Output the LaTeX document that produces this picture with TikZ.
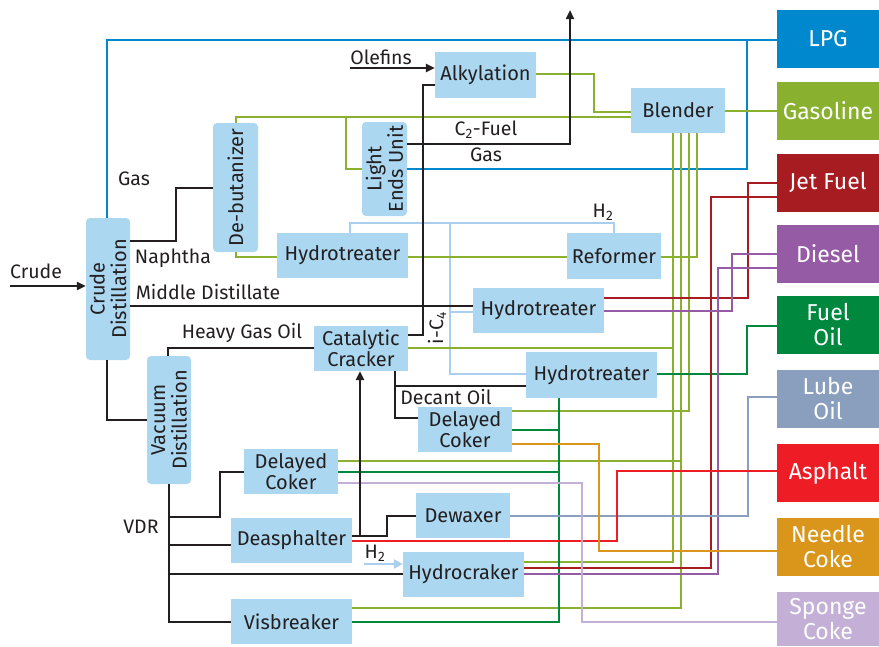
\documentclass[tikz,border=0pt]{standalone}
\usepackage{fontspec}
\setmainfont{Fira Sans}
\usetikzlibrary{arrows.meta}
\definecolor{boxblue}{RGB}{171,215,241}
\definecolor{ink}{RGB}{35,31,32}
\definecolor{cgreen}{RGB}{138,176,48}
\definecolor{cblue}{RGB}{0,136,206}
\definecolor{clblue}{RGB}{170,207,238}
\definecolor{cdred}{RGB}{166,28,33}
\definecolor{cpurple}{RGB}{149,91,165}
\definecolor{cdgreen}{RGB}{0,136,62}
\definecolor{cgrey}{RGB}{138,159,189}
\definecolor{cred}{RGB}{238,28,37}
\definecolor{corange}{RGB}{217,150,26}
\definecolor{clilac}{RGB}{196,176,214}
\begin{document}
\begin{tikzpicture}[x=1pt,y=-1pt,
  unit/.style={fill=boxblue,inner sep=0pt,text=ink,align=center,font=\fontsize{20}{21.5}\selectfont},
  runit/.style={unit,rounded corners=4pt},
  rtext/.style={rotate=90,align=center,text=ink,inner sep=0pt,font=\fontsize{20}{21.5}\selectfont},
  prod/.style={inner sep=0pt,text=white,align=center,minimum width=102pt,minimum height=58pt,font=\fontsize{23}{25}\selectfont},
  lbl/.style={inner sep=0pt,text=ink,font=\fontsize{19.5}{21}\selectfont},
  kline/.style={draw=ink,line width=2.4pt},
  cl/.style={line width=2pt},
  arr/.style={-{Triangle[length=9pt,width=8pt]}}
]
\useasboundingbox (0,0) rectangle (879,646);
% ---- process units
\node[runit,minimum width=44pt,minimum height=142pt] (crude) at (108,289) {};
\node[rtext] (crudeT) at (crude.center) {Crude\\Distillation};
\node[runit,minimum width=45pt,minimum height=129pt] (debut) at (235.5,187.5) {};
\node[rtext] (debutT) at (debut.center) {De-butanizer};
\node[runit,minimum width=45pt,minimum height=94pt] (leu) at (384.5,169) {};
\node[rtext] (leuT) at (leu.center) {Light\\Ends Unit};
\node[runit,minimum width=44pt,minimum height=128pt] (vac) at (169,420) {};
\node[rtext] (vacT) at (vac.center) {Vacuum\\Distillation};
\node[unit,minimum width=101pt,minimum height=46pt] (alky) at (485.5,75) {Alkylation};
\node[unit,minimum width=94pt,minimum height=45pt] (blend) at (678,110.5) {Blender};
\node[unit,minimum width=131pt,minimum height=45pt] (hyd1) at (342.5,255.5) {Hydrotreater};
\node[unit,minimum width=94pt,minimum height=46pt] (reform) at (614,256) {Reformer};
\node[unit,minimum width=131pt,minimum height=45pt] (hyd2) at (538.5,310.5) {Hydrotreater};
\node[unit,minimum width=94pt,minimum height=45pt] (cat) at (361,348.5) {Catalytic\\Cracker};
\node[unit,minimum width=131pt,minimum height=46pt] (hyd3) at (591.5,375) {Hydrotreater};
\node[unit,minimum width=94pt,minimum height=45pt] (dc2) at (465,429.5) {Delayed\\Coker};
\node[unit,minimum width=94pt,minimum height=45pt] (dc1) at (291,471.5) {Delayed\\Coker};
\node[unit,minimum width=94pt,minimum height=45pt] (dewax) at (463,515.5) {Dewaxer};
\node[unit,minimum width=121pt,minimum height=45pt] (deasph) at (291.5,540.5) {Deasphalter};
\node[unit,minimum width=121pt,minimum height=45pt] (hcrack) at (463.5,574.5) {Hydrocraker};
\node[unit,minimum width=121pt,minimum height=45pt] (visb) at (291.5,621.5) {Visbreaker};
% ---- products
\node[prod,fill=cblue] (lpg) at (828,39) {LPG};
\node[prod,fill=cgreen] (gas) at (828,111) {Gasoline};
\node[prod,fill=cdred] (jet) at (828,182.5) {Jet Fuel};
\node[prod,fill=cpurple] (diesel) at (828,254) {Diesel};
\node[prod,fill=cdgreen] (fuel) at (828,325) {Fuel\\Oil};
\node[prod,fill=cgrey] (lube) at (828,399) {Lube\\Oil};
\node[prod,fill=cred] (asph) at (828,473) {Asphalt};
\node[prod,fill=corange] (needle) at (828,547) {Needle\\Coke};
\node[prod,fill=clilac,minimum height=54pt] (sponge) at (828,619) {Sponge\\Coke};
% ---- free ends
\coordinate (crudein) at (10,286);
\coordinate (olefin) at (350,68);
\coordinate (fuelgas) at (570,10);
\coordinate (h2in) at (364,564);
% ---- blue
\draw[cl,draw=cblue] (crude.north -| 107,0) |- (lpg.west |- 0,40);
\draw[cl,draw=cblue] (leu.east |- 0,169) -| (747,40);
% ---- light blue (H2)
\draw[cl,draw=clblue,line width=1.8pt] (hyd1.north -| 350,0) |- (614,223) -- (reform.north -| 614,0);
\draw[cl,draw=clblue,line width=1.8pt] (450,223) |- (hyd3.west |- 0,374);
\draw[cl,draw=clblue,line width=1.8pt] (450,312) -- (hyd2.west |- 0,312);
\draw[draw=clblue,line width=2.4pt,-{Triangle[length=9pt,width=9pt]}] (h2in) -- (hcrack.west |- 0,564);
% ---- green (to blender)
\draw[cl,draw=cgreen] (debut.north) |- (blend.west |- 0,117);
\draw[cl,draw=cgreen] (346,117) |- (leu.west |- 0,169);
\draw[cl,draw=cgreen] (alky.east |- 0,74) -| (594,112) -- (blend.west |- 0,112);
\draw[cl,draw=cgreen] (blend.east |- 0,111) -- (gas.west |- 0,111);
\draw[cl,draw=cgreen] (debut.south) |- (hyd1.west |- 0,257);
\draw[cl,draw=cgreen] (hyd1.east |- 0,257) -- (reform.west |- 0,257);
\draw[cl,draw=cgreen] (reform.east |- 0,257) -| (blend.south -| 697,0);
\draw[cl,draw=cgreen] (hcrack.east |- 0,562) -| (blend.south -| 673,0);
\draw[cl,draw=cgreen] (cat.east |- 0,348) -- (673,348);
\draw[cl,draw=cgreen] (visb.east |- 0,608) -| (blend.south -| 681,0);
\draw[cl,draw=cgreen] (dc1.east |- 0,461) -- (681,461);
\draw[cl,draw=cgreen] (dc2.east |- 0,411) -| (blend.south -| 689,0);
% ---- dark green (fuel oil)
\draw[cl,draw=cdgreen] (hyd3.east |- 0,374) -| (747,326) -- (fuel.west |- 0,326);
\draw[cl,draw=cdgreen] (hyd3.south -| 559,0) |- (visb.east |- 0,622);
\draw[cl,draw=cdgreen] (dc2.east |- 0,430) -- (559,430);
\draw[cl,draw=cdgreen] (dc1.east |- 0,472) -- (559,472);
% ---- jet fuel / diesel
\draw[cl,draw=cdred] (hyd2.east |- 0,298) -| (748,183) -- (jet.west |- 0,183);
\draw[cl,draw=cdred] (hcrack.east |- 0,568) -| (711,197) -- (jet.west |- 0,197);
\draw[cl,draw=cpurple] (hyd2.east |- 0,311) -| (732,254) -- (diesel.west |- 0,254);
\draw[cl,draw=cpurple] (hcrack.east |- 0,574) -| (718,268) -- (diesel.west |- 0,268);
% ---- lube, asphalt, cokes
\draw[cl,draw=cgrey] (dewax.east |- 0,516) -| (748,397) -- (lube.west |- 0,397);
\draw[cl,draw=cred] (deasph.east |- 0,541) -| (617,471) -- (asph.west |- 0,471);
\draw[cl,draw=corange] (dc2.east |- 0,444) -| (599,551) -- (needle.west |- 0,551);
\draw[cl,draw=clilac] (dc1.east |- 0,483) -| (582,622) -- (sponge.west |- 0,622);
% ---- black
\draw[kline,arr] (crudein) -- (crude.west |- crudein);
\draw[kline] (crude.east |- 0,241) -- (176,241) |- (debut.west |- 0,188);
\draw[kline] (crude.east |- 0,306) -- (hyd2.west |- 0,306);
\draw[kline] (crude.south -| 107,0) |- (vac.west);
\draw[kline] (vac.north -| 168,0) |- (cat.west |- 0,348);
\draw[kline] (cat.east |- 0,335) -- (423,335) |- (alky.west |- 0,85);
\draw[kline,arr] (leu.east |- 0,144) -| (fuelgas);
\draw[kline,arr] (olefin) -- (alky.west |- olefin);
\draw[kline] (cat.south -| 395,0) |- (dc2.west |- 0,418);
\draw[kline] (395,386) -- (hyd3.west |- 0,386);
\draw[kline] (deasph.east |- 0,536) -- (387,536) |- (dewax.west |- 0,516);
\draw[kline,arr] (360,536) -- (cat.south -| 360,0);
\draw[kline] (vac.south) |- (visb.west |- 0,622);
\draw[kline] (169,517) -- (220,517) |- (dc1.west |- 0,472);
\draw[kline] (169,545) -- (deasph.west |- 0,545);
\draw[kline] (169,574) -- (hcrack.west |- 0,574);
% ---- labels
\node[lbl] (lOlef) at (381,57) {Olefins};
\node[lbl] (lGas) at (134,179) {Gas};
\node[lbl] (lNaph) at (173,258) {Naphtha};
\node[lbl] (lCrude) at (36,271) {Crude};
\node[lbl] (lMid) at (208,292) {Middle Distillate};
\node[lbl] (lHGO) at (242,333) {Heavy Gas Oil};
\node[lbl] (lDec) at (446,397) {Decant Oil};
\node[lbl] (lVDR) at (141,527) {VDR};
\node[lbl] (lC2) at (486,130) {C\textsubscript{2}-Fuel};
\node[lbl] (lC2b) at (486,155) {Gas};
\node[lbl] (lH2a) at (603,212) {H\textsubscript{2}};
\node[lbl] (lH2b) at (375,553) {H\textsubscript{2}};
\node[lbl,rotate=90] (liC4) at (437,328) {i-C\textsubscript{4}};
\end{tikzpicture}
\end{document}
